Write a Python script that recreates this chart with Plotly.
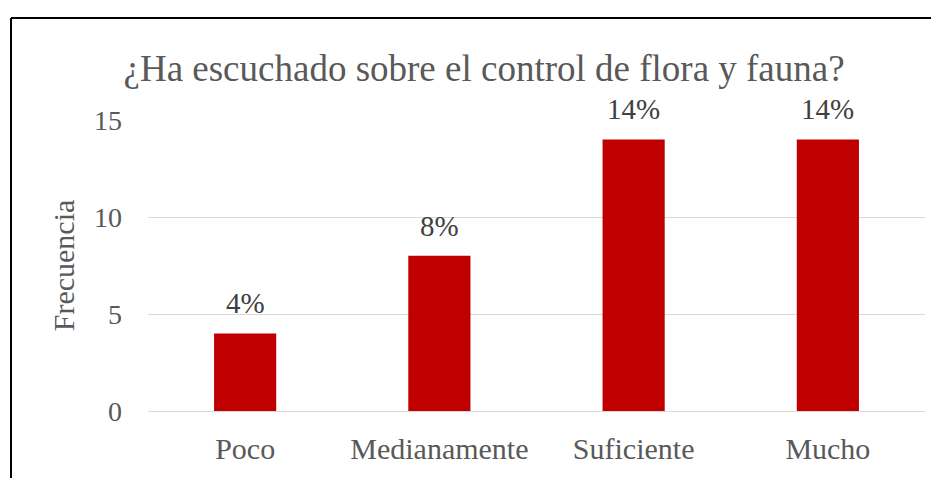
import plotly.graph_objects as go

# data
categories = ["Poco", "Medianamente", "Suficiente", "Mucho"]
frecuencia = [4, 8, 14, 14]
etiquetas = ["4%", "8%", "14%", "14%"]

font_fam = "Liberation Serif, Times New Roman, DejaVu Serif, serif"
gray = "#595959"

fig = go.Figure(
    data=[go.Bar(x=categories, y=frecuencia, width=0.32,
                 marker=dict(color="#C00000", line=dict(width=0)))]
)

# data labels above each bar
for c, v, t in zip(categories, frecuencia, etiquetas):
    fig.add_annotation(x=c, y=v, text=t, showarrow=False, yanchor="middle",
                       yshift=30, font=dict(family=font_fam, size=29, color="#404040"))

# page body adds an 8px offset, so the figure sits 8px right/down
fig.update_layout(
    width=939, height=470,
    margin=dict(l=140, r=22, t=112, b=67),
    paper_bgcolor="white", plot_bgcolor="white",
    showlegend=False,
    font=dict(family=font_fam, color=gray),
    title=dict(text="¿Ha escuchado sobre el control de flora y fauna?",
               x=0.507, xanchor="center", y=0.872, yanchor="middle",
               font=dict(family=font_fam, size=37, color=gray)),
    xaxis=dict(showgrid=False, showline=False, ticks="",
               ticklabelstandoff=17,
               tickfont=dict(family=font_fam, size=30, color=gray)),
    yaxis=dict(range=[0, 15], dtick=5, showgrid=True, gridcolor="#d9d9d9",
               gridwidth=1, zeroline=True, zerolinecolor="#d9d9d9", zerolinewidth=1,
               showline=False, ticks="", ticklabelstandoff=25,
               tickfont=dict(family=font_fam, size=28, color=gray),
               title=dict(text="Frecuencia", standoff=10,
                          font=dict(family=font_fam, size=30, color=gray))),
)

# frame border visible in the screenshot (top and left edges)
fig.add_shape(type="line", xref="paper", yref="paper", x0=-0.1763, x1=1.05,
              y0=1.3505, y1=1.3505, line=dict(color="black", width=2))
fig.add_shape(type="line", xref="paper", yref="paper", x0=-0.1763, x1=-0.1763,
              y0=1.3505, y1=-0.25, line=dict(color="black", width=2))

fig.write_html("out.html")
